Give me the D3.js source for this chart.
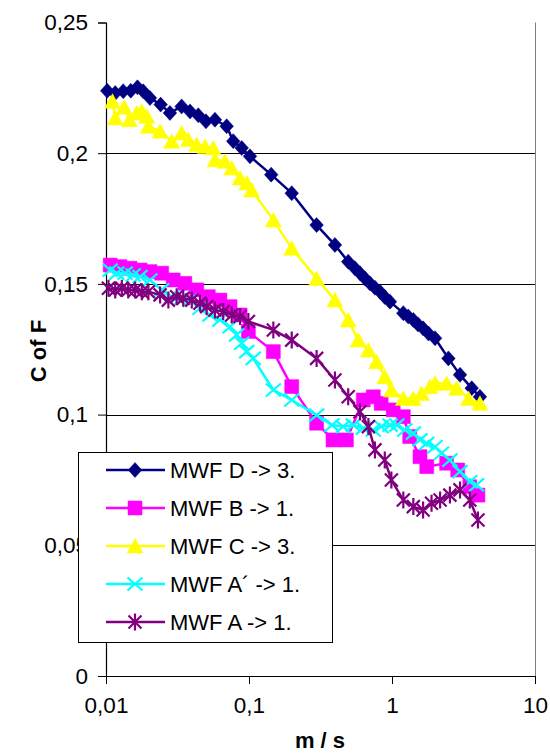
<!DOCTYPE html>
<html><head><meta charset="utf-8">
<script src="https://cdn.jsdelivr.net/npm/d3@7"></script>
<style>body{margin:0;background:#fff}svg{display:block}text{font-family:"Liberation Sans",Arial,sans-serif}</style>
</head><body>
<svg id="c" width="550" height="754"></svg>
<script>
// ---- data (x in m/s, y = C of F) ----
const seriesNames = ["MWF D -> 3.", "MWF B -> 1.", "MWF C -> 3.", "MWF A\u00B4 -> 1.", "MWF A -> 1."];
const seriesColors = ["#000080", "#FF00FF", "#FFFF00", "#00FFFF", "#800080"];
const seriesMarkers = ["diamond", "square", "triangle", "x", "star"];

const xD = [0.0102,0.0116,0.0132,0.0149,0.0166,0.0182,0.0203,0.0241,0.028,0.0338,0.0387,0.0442,0.05,0.0578,0.0698,0.0776,0.0889,0.1016,0.143,0.199,0.297,0.399,0.494,0.55,0.597,0.65,0.702,0.76,0.824,0.89,0.968,1.2,1.3,1.41,1.52,1.65,1.8,2.0,2.48,2.99,3.61,4.12];
const yD = [0.2239,0.2230,0.2237,0.2239,0.2252,0.2237,0.2211,0.2186,0.2154,0.2179,0.2160,0.2145,0.2122,0.2128,0.2103,0.2046,0.2020,0.1988,0.1918,0.1847,0.1725,0.1649,0.1585,0.1560,0.1541,0.1520,0.1502,0.1485,0.1470,0.1450,0.1432,0.1388,0.1375,0.1362,0.1345,0.1330,0.1310,0.1292,0.1215,0.1152,0.1101,0.1068];

const xB = [0.0107,0.0125,0.0147,0.0173,0.0203,0.0245,0.0295,0.0356,0.0431,0.0519,0.0626,0.0737,0.0866,0.099,0.148,0.199,0.297,0.387,0.48,0.63,0.74,0.84,1.02,1.2,1.33,1.57,1.75,2.41,2.88,3.5,3.99];
const yB = [0.1572,0.1566,0.1560,0.1553,0.1547,0.1541,0.1515,0.1502,0.1477,0.1451,0.1438,0.1413,0.1381,0.1318,0.1241,0.1107,0.0967,0.0903,0.0903,0.1056,0.1068,0.1043,0.1018,0.0992,0.0916,0.0839,0.0801,0.0814,0.0788,0.0724,0.0692];

const xC = [0.0111,0.0116,0.0134,0.0146,0.0164,0.0178,0.0193,0.0198,0.0239,0.0288,0.0338,0.0376,0.0431,0.0493,0.0563,0.0578,0.0679,0.0757,0.0866,0.0964,0.1044,0.148,0.199,0.297,0.399,0.494,0.581,0.684,0.78,0.89,0.99,1.2,1.41,1.61,1.84,2.0,2.41,2.83,3.43,4.12];
const yC = [0.2199,0.2135,0.2176,0.2128,0.2154,0.2160,0.2141,0.2103,0.2084,0.2046,0.2077,0.2052,0.2033,0.2026,0.2020,0.1975,0.1969,0.1943,0.1905,0.1886,0.1859,0.1744,0.1636,0.1521,0.1438,0.1362,0.1285,0.1247,0.1202,0.1145,0.1094,0.1062,0.1062,0.1081,0.1107,0.1120,0.1120,0.1101,0.1062,0.1043];

const xA2 = [0.0107,0.0119,0.0136,0.0155,0.0173,0.0203,0.0245,0.0288,0.0338,0.0387,0.0454,0.0533,0.0626,0.0737,0.082,0.0889,0.0964,0.107,0.148,0.199,0.297,0.38,0.455,0.536,0.63,0.74,0.84,0.97,1.08,1.23,1.41,1.57,1.75,2.0,2.22,2.54,2.99,3.5,3.9];
const yA2 = [0.1553,0.1541,0.1541,0.1534,0.1528,0.1515,0.1477,0.1451,0.1445,0.1438,0.1407,0.1381,0.1362,0.1336,0.1305,0.1273,0.1241,0.1215,0.1094,0.1056,0.0998,0.0960,0.0954,0.0960,0.0948,0.0941,0.0954,0.0960,0.0960,0.0941,0.0929,0.0903,0.0890,0.0877,0.0852,0.0826,0.0782,0.0743,0.0731];

const xA = [0.0104,0.0116,0.0129,0.0143,0.016,0.0178,0.0198,0.0239,0.0273,0.0312,0.0347,0.0398,0.0454,0.0506,0.0578,0.066,0.0757,0.0866,0.099,0.148,0.199,0.297,0.399,0.494,0.597,0.684,0.76,0.89,0.99,1.2,1.41,1.65,1.89,2.17,2.54,2.99,3.5,3.99];
const yA = [0.1483,0.1477,0.1483,0.1477,0.1477,0.1470,0.1470,0.1458,0.1438,0.1451,0.1445,0.1438,0.1426,0.1413,0.1400,0.1394,0.1381,0.1375,0.1356,0.1324,0.1285,0.1215,0.1132,0.1068,0.1011,0.0954,0.0865,0.0826,0.0750,0.0673,0.0648,0.0635,0.0661,0.0673,0.0692,0.0712,0.0673,0.0597];

const yTicks = [0, 0.05, 0.1, 0.15, 0.2, 0.25];
const xTicks = [0.01, 0.1, 1, 10];
const xTitle = "m / s";
const yTitle = "C of F";

const seriesX = [xD, xB, xC, xA2, xA];
const seriesY = [yD, yB, yC, yA2, yA];

// ---- chart ----
const svg = d3.select("#c");
const L = 106, R = 535, T = 22.5, B = 676;
const x = d3.scaleLog().domain([0.01, 10]).range([L, R]);
const y = d3.scaleLinear().domain([0, 0.25]).range([B, T]);
const fmt = d => String(+d.toFixed(3)).replace(".", ",");

// gridlines
svg.append("g").selectAll("line").data(yTicks.filter(d => d > 0 && d < 0.25)).join("line")
  .attr("x1", L).attr("x2", R)
  .attr("y1", d => Math.round(y(d)) + 0.5).attr("y2", d => Math.round(y(d)) + 0.5)
  .attr("stroke", "#000").attr("stroke-width", 1);
// right border
svg.append("line").attr("x1", R + 0.5).attr("x2", R + 0.5).attr("y1", T).attr("y2", B)
  .attr("stroke", "#808080").attr("stroke-width", 1);

// axes
const gy = svg.append("g").attr("transform", `translate(${L},0)`)
  .call(d3.axisLeft(y).tickValues(yTicks).tickFormat(fmt).tickSize(8).tickPadding(10));
const gx = svg.append("g").attr("transform", `translate(0,${B})`)
  .call(d3.axisBottom(x).tickValues(xTicks).tickFormat(fmt).tickSize(8).tickPadding(13));
[gy, gx].forEach(g => {
  g.select(".domain").attr("stroke", "#000").attr("stroke-width", 1.2);
  g.selectAll(".tick line").attr("stroke", "#000").attr("stroke-width", 1);
  g.selectAll("text").attr("font-size", 22.5).attr("fill", "#000")
    .attr("font-family", '"Liberation Sans",Arial,sans-serif');
});
gx.select(".domain").attr("d", `M${L - 8},0.5H${R}`);

// axis titles
svg.append("text").attr("transform", "translate(46,351) rotate(-90)")
  .attr("text-anchor", "middle").attr("font-size", 22).attr("font-weight", "bold").text(yTitle);
svg.append("text").attr("x", 320).attr("y", 748)
  .attr("text-anchor", "middle").attr("font-size", 22).attr("font-weight", "bold").text(xTitle);

// markers
function markerPath(type) {
  switch (type) {
    case "diamond": return "M0,-7.5L6.8,0L0,7.5L-6.8,0Z";
    case "square": return "M-7,-7H7V7H-7Z";
    case "triangle": return "M0,-7.5L8,7L-8,7Z";
    case "x": return "M-7.5,-6.5L7.5,6.5M-7.5,6.5L7.5,-6.5";
    case "star": return "M-6.5,-6.5L6.5,6.5M-6.5,6.5L6.5,-6.5M0,-8.5L0,8.5";
  }
}
function drawMarker(g, type, color) {
  const filled = type !== "x" && type !== "star";
  g.append("path").attr("d", markerPath(type))
    .attr("fill", filled ? color : "none")
    .attr("stroke", color).attr("stroke-width", filled ? 0.5 : 2.2);
}

const line = d3.line().x(d => x(d[0])).y(d => y(d[1]));
seriesNames.forEach((name, i) => {
  const pts = seriesX[i].map((v, j) => [v, seriesY[i][j]]);
  const g = svg.append("g");
  g.append("path").datum(pts).attr("d", line).attr("fill", "none")
    .attr("stroke", seriesColors[i]).attr("stroke-width", 2.5).attr("stroke-linejoin", "round");
  pts.forEach(p => {
    const m = g.append("g").attr("transform", `translate(${x(p[0])},${y(p[1])})`);
    drawMarker(m, seriesMarkers[i], seriesColors[i]);
  });
});

// legend
const lg = svg.append("g");
lg.append("rect").attr("x", 78.5).attr("y", 452.5).attr("width", 254).attr("height", 190)
  .attr("fill", "#fff").attr("stroke", "#000").attr("stroke-width", 1);
seriesNames.forEach((name, i) => {
  const yy = 470 + i * 38;
  lg.append("line").attr("x1", 106).attr("x2", 165).attr("y1", yy).attr("y2", yy)
    .attr("stroke", seriesColors[i]).attr("stroke-width", 2.5);
  const m = lg.append("g").attr("transform", `translate(135,${yy})`);
  drawMarker(m, seriesMarkers[i], seriesColors[i]);
  lg.append("text").attr("x", 170).attr("y", yy).attr("dy", "0.36em")
    .attr("font-size", 22).attr("fill", "#000").text(name);
});
</script>
</body></html>
